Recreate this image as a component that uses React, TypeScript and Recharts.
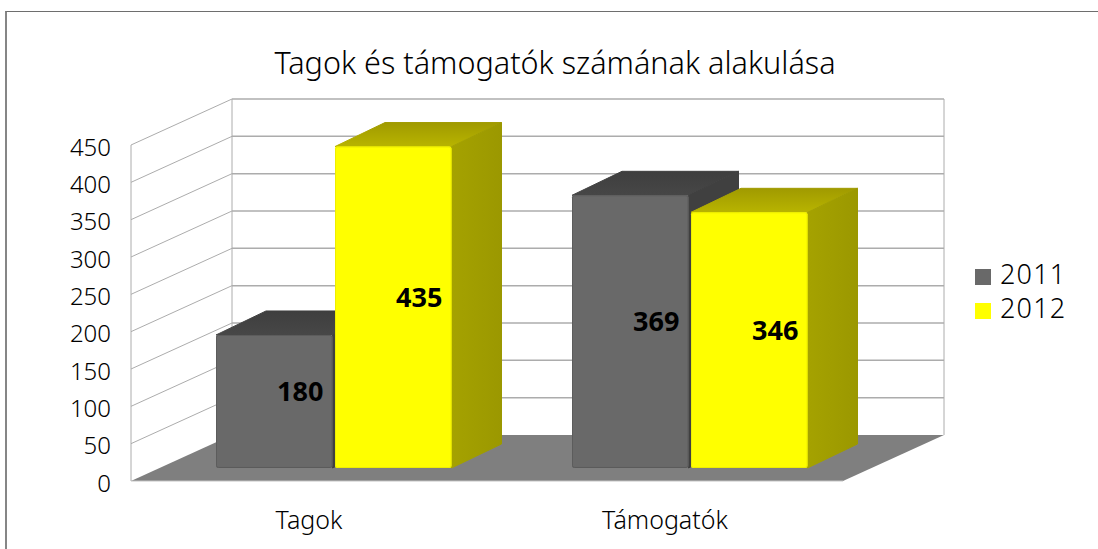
import React from 'react';
import { ComposedChart, Bar, Line, XAxis, YAxis, CartesianGrid, Legend, LabelList } from 'recharts';

const categories = ['Tagok', 'Támogatók'];
const values2011 = [180, 369];
const values2012 = [435, 346];
const yTicks = [0, 50, 100, 150, 200, 250, 300, 350, 400, 450];

const FONT = '"Noto Sans", sans-serif';
const WIDTH = 1098;
const HEIGHT = 549;
const LEGEND_WIDTH = 110;
const MARGIN = { top: 145, right: 255 - LEGEND_WIDTH, bottom: 0, left: 0 };
const X_AXIS_HEIGHT = 68;
const PLOT_BOTTOM = HEIGHT - X_AXIS_HEIGHT;

// depth of the floor / walls of the fake 3D box
const WALL_DX = 101;
const WALL_DY = 46;
// depth of the bars themselves
const BAR_DX = 50;
const BAR_DY = 24;
const BAR_SHIFT = 25;
const LINE = '#acacac';

const data = categories.map((name, i) => ({
  name,
  y2011: values2011[i],
  y2012: values2012[i],
}));

// oblique line on the side wall + line on the back wall, for every tick
const WallLine = (props: any) => {
  const { x1, x2, y1, index } = props;
  const isFloor = Math.abs(y1 - PLOT_BOTTOM) < 1;
  const isTop = Math.abs(y1 - MARGIN.top) < 1;
  return (
    <g key={index}>
      {isFloor && (
        <polygon
          points={`${x1},${y1} ${x1 + WALL_DX},${y1 - WALL_DY} ${x2 + WALL_DX},${y1 - WALL_DY} ${x2},${y1}`}
          fill="#7f7f7f"
        />
      )}
      {isTop && (
        <g stroke={LINE} strokeWidth={1}>
          <line x1={x1} y1={y1} x2={x1} y2={PLOT_BOTTOM} />
          <line x1={x1 + WALL_DX} y1={y1 - WALL_DY} x2={x1 + WALL_DX} y2={PLOT_BOTTOM - WALL_DY} />
          <line x1={x2 + WALL_DX} y1={y1 - WALL_DY} x2={x2 + WALL_DX} y2={PLOT_BOTTOM - WALL_DY} />
        </g>
      )}
      {!isFloor && <line x1={x1} y1={y1} x2={x1 + WALL_DX} y2={y1 - WALL_DY} stroke={LINE} strokeWidth={1} />}
      {!isFloor && <line x1={x1 + WALL_DX} y1={y1 - WALL_DY} x2={x2 + WALL_DX} y2={y1 - WALL_DY} stroke={LINE} strokeWidth={1.5} />}
      {isFloor && <line x1={x1} y1={y1} x2={x2} y2={y1} stroke="#c4c4c4" strokeWidth={1} />}
    </g>
  );
};

const makeBox = (top: string, side: string, edge: string) => (props: any) => {
  const { x, y, width, height, fill } = props;
  const left = x + BAR_SHIFT;
  const right = left + width;
  const bottom = y + height;
  return (
    <g>
      <polygon
        points={`${left},${y} ${left + BAR_DX},${y - BAR_DY} ${right + BAR_DX},${y - BAR_DY} ${right},${y}`}
        fill={top}
        stroke={top}
        strokeLinejoin="round"
      />
      <polygon
        points={`${right},${y} ${right + BAR_DX},${y - BAR_DY} ${right + BAR_DX},${bottom - BAR_DY} ${right},${bottom}`}
        fill={side}
        stroke={side}
        strokeLinejoin="round"
      />
      <rect x={left} y={y} width={width} height={height} rx={2} fill={fill} />
      <rect x={left + 0.5} y={y + 0.5} width={width - 1} height={height - 1} rx={2} fill="none" stroke={edge} strokeWidth={1} />
    </g>
  );
};

const GreyBox = makeBox('url(#greyTop)', '#404040', '#5c5c5c');
const YellowBox = makeBox('url(#yellowTop)', 'url(#yellowSide)', '#eeee00');

const BoxLabel = (props: any) => {
  const { x, y, width, height, value } = props;
  return (
    <text
      x={x + BAR_SHIFT + width / 2 + 26}
      y={y + height / 2 - 11}
      textAnchor="middle"
      dominantBaseline="central"
      fontFamily={FONT}
      fontSize={27}
      fontWeight={700}
      fill="#000"
    >
      {value}
    </text>
  );
};

export default function App() {
  return (
    <div style={{ position: 'absolute', left: 0, top: 0, width: WIDTH, height: HEIGHT, overflow: 'hidden', background: '#fff' }}>
      <div style={{ position: 'absolute', left: 5, top: 11, right: -2, bottom: -2, borderLeft: '2px solid #868686', borderTop: '1px solid #6e6e6e' }} />
      <ComposedChart width={WIDTH} height={HEIGHT} data={data} margin={MARGIN} barSize={116.5} barGap={2.5} barCategoryGap={0}>
        <defs>
          <linearGradient id="greyTop" x1="0" y1="0" x2="0" y2="1">
            <stop offset="0%" stopColor="#3e3e3e" />
            <stop offset="100%" stopColor="#474747" />
          </linearGradient>
          <linearGradient id="yellowTop" x1="0" y1="0" x2="0" y2="1">
            <stop offset="0%" stopColor="#a09a00" />
            <stop offset="100%" stopColor="#b8b400" />
          </linearGradient>
          <linearGradient id="yellowSide" x1="0" y1="0" x2="1" y2="0">
            <stop offset="0%" stopColor="#a5a200" />
            <stop offset="100%" stopColor="#9b9800" />
          </linearGradient>
        </defs>
        <text x={555} y={62} textAnchor="middle" dominantBaseline="central" fontFamily={FONT} fontSize={30.6} fontWeight={300} fill="#000">
          Tagok és támogatók számának alakulása
        </text>
        <CartesianGrid horizontal={WallLine} vertical={false} />
        <XAxis
          dataKey="name"
          height={X_AXIS_HEIGHT}
          axisLine={false}
          tickLine={false}
          tickMargin={24}
          tick={{ fontFamily: FONT, fontSize: 25, fontWeight: 300, fill: '#000' }}
        />
        <YAxis
          domain={[0, 450]}
          ticks={yTicks}
          width={131}
          axisLine={false}
          tickLine={false}
          tickMargin={14}
          tick={{ fontFamily: FONT, fontSize: 24, fontWeight: 300, fill: '#000', dy: 2 }}
        />
        {/* bars stand further back in the box, so their zero is above the axis zero */}
        <YAxis yAxisId="bars" hide domain={[-17.6, 437.1]} />
        <Legend
          layout="vertical"
          align="right"
          verticalAlign="top"
          iconType="square"
          iconSize={16}
          wrapperStyle={{ position: 'absolute', left: 975, top: 257, width: LEGEND_WIDTH, fontFamily: FONT, fontSize: 27, lineHeight: '34px' }}
          formatter={(v: string) => <span style={{ color: '#000', fontWeight: 300, marginLeft: 5, letterSpacing: 1.2 }}>{v}</span>}
        />
        {/* invisible series, only keeps the visible value axis alive */}
        <Line dataKey="y2011" stroke="none" dot={false} activeDot={false} legendType="none" isAnimationActive={false} />
        <Bar dataKey="y2011" name="2011" yAxisId="bars" fill="#696969" shape={GreyBox} isAnimationActive={false}>
          <LabelList dataKey="y2011" content={BoxLabel} />
        </Bar>
        <Bar dataKey="y2012" name="2012" yAxisId="bars" fill="#ffff00" shape={YellowBox} isAnimationActive={false}>
          <LabelList dataKey="y2012" content={BoxLabel} />
        </Bar>
      </ComposedChart>
    </div>
  );
}
